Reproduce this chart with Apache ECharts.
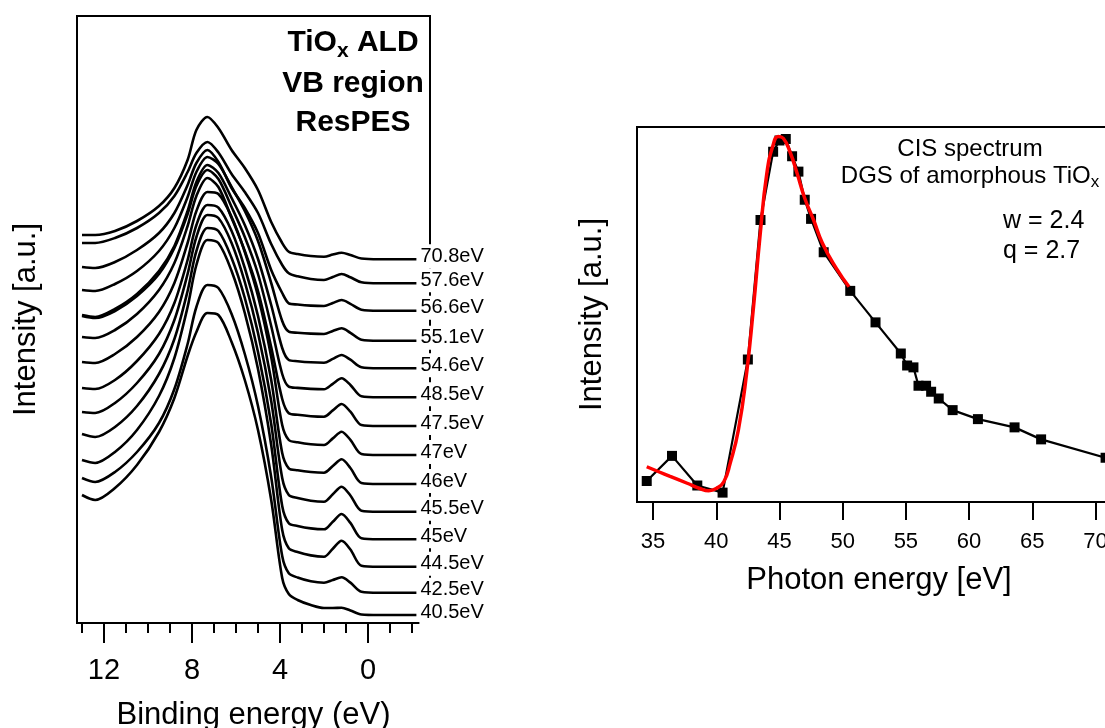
<!DOCTYPE html>
<html>
<head>
<meta charset="utf-8">
<title>TiOx ResPES</title>
<script src="https://cdn.jsdelivr.net/npm/echarts@6/dist/echarts.min.js"></script>
<style>
  html, body { margin: 0; padding: 0; background: #fff; }
  #chart { width: 1105px; height: 728px; }
</style>
</head>
<body>
<div id="chart"></div>
<script>
// binding energy grid (eV) shared by all valence band spectra
var bindingEnergy = [13, 12.4, 11.5, 10.5, 9.5, 8.8, 8.2, 7.8, 7.3, 6.8, 6.2, 5.6, 5.0, 4.4, 3.9, 3.6, 3.2, 2.6, 2.0, 1.6, 1.2, 0.8, 0.3, -0.5, -2.2];

// VB spectra, already offset (a.u.), one per photon energy
var vb708 = [388, 388, 392, 402, 417, 435, 463, 493, 506, 495, 473, 455, 433, 401, 380, 371.3, 369, 367, 366.3, 368.5, 370.3, 368, 364.5, 363.7, 363.7];
var vb576 = [380, 380, 385, 395, 410, 427, 451, 470, 481, 470.5, 449, 431, 410, 379, 358, 349.7, 346.7, 344, 343, 346, 349, 345.7, 340.7, 339.7, 339.7];
var vb566 = [356, 355, 361, 373, 390, 410, 438, 460, 473, 461, 435, 415, 390, 353, 330, 319.7, 318.5, 317.4, 317, 320, 323, 319.2, 313.3, 312.3, 312.3];
var vb551 = [333, 332, 339, 352, 372, 395, 426, 451, 466, 459, 436, 412, 382, 340, 302, 291.3, 290.3, 289.4, 289, 292, 294.7, 290.2, 283.3, 282.3, 282.3];
var vb546 = [308, 306, 314, 329, 352, 377, 412, 441, 458, 450, 425, 398, 364, 318, 275, 263, 261.8, 260.7, 260.3, 264.1, 268, 263.3, 255.7, 254.7, 254.7];
var vb485 = [307, 305, 312, 327, 349, 375, 409, 437, 453, 444, 416, 386, 349, 297, 249, 236.3, 235.1, 234.1, 233.7, 239.2, 244.7, 238, 226.7, 225.7, 225.7];
var vb475 = [286, 285, 293, 309, 333, 360, 397, 427, 445, 436, 405, 372, 332, 276, 224, 209.7, 208.2, 206.8, 206.3, 212.6, 219, 211.3, 198, 197, 197];
var vb470 = [261, 260, 269, 286, 311, 340, 380, 412, 431, 429, 406, 371, 327, 266, 198, 183, 180.7, 178.7, 178, 184.6, 191.3, 183.1, 169, 168, 168];
var vb460 = [235, 234, 243, 262, 289, 320, 363, 398, 418, 415.4, 392, 355, 307, 243, 170, 154.7, 152.7, 151, 150.3, 157, 163.7, 155, 140, 139, 139];
var vb455 = [211, 210, 220, 240, 269, 303, 349, 386, 408, 405, 380, 341, 290, 222, 145, 128, 125, 122.3, 121.3, 128.8, 136.3, 127.5, 112.3, 111.3, 111.3];
var vb450 = [189, 186, 196, 217, 249, 284, 332, 372, 395, 392, 365, 325, 271, 199, 117, 99.7, 97, 94.6, 93.7, 101.3, 109, 100.1, 84.7, 83.7, 83.7];
var vb445 = [163, 160, 171, 193, 227, 265, 316, 358, 383, 380, 352, 310, 254, 178, 93, 74.7, 71, 67.6, 66.3, 74.3, 82.3, 73.5, 57.3, 56.3, 56.3];
var vb425 = [145, 141, 151, 171, 200, 234, 279, 316, 338, 335, 309, 269, 217, 146, 67, 49.7, 45.5, 41.7, 40.3, 43, 45.7, 40.4, 31.3, 30.3, 30.3];
var vb405 = [128, 123, 135, 158, 191, 225, 267, 291, 310, 308, 281, 243, 193, 123, 45, 29, 23, 18, 15, 15, 15.3, 12.5, 8.5, 8, 8];

var vbLabels = ['70.8eV', '57.6eV', '56.6eV', '55.1eV', '54.6eV', '48.5eV', '47.5eV', '47eV', '46eV', '45.5eV', '45eV', '44.5eV', '42.5eV', '40.5eV'];
var vbSpectra = [vb708, vb576, vb566, vb551, vb546, vb485, vb475, vb470, vb460, vb455, vb450, vb445, vb425, vb405];

var beMajorTicks = [12, 8, 4, 0];
var beMinorTicks = [13, 11, 10, 9, 7, 6, 5, 3, 2, 1, -1, -2];

// CIS spectrum of the defect gap state
var cisEnergy = [34.5, 36.5, 38.5, 40.5, 42.5, 43.5, 44.5, 45, 45.5, 46, 46.5, 47, 47.5, 48.5, 50.6, 52.6, 54.6, 55.1, 55.6, 56, 56.6, 57, 57.6, 58.7, 60.7, 63.6, 65.7, 70.8];
var cisIntensity = [5.6, 12.3, 4.4, 2.5, 38.0, 75.2, 93.4, 96.4, 96.8, 92.2, 88.1, 80.6, 75.5, 66.6, 56.3, 47.9, 39.6, 36.4, 35.9, 31.0, 31.0, 29.4, 27.6, 24.5, 22.1, 19.9, 16.7, 11.8];

// Fano fit (red)
var fitEnergy = [34.5, 35.5, 36.3, 37.7, 38.7, 39.4, 40.0, 40.6, 41.1, 41.75, 42.4, 42.95, 43.45, 44.0, 44.5, 44.9, 45.3, 45.85, 46.4, 47.0, 47.7, 48.4, 49.5, 50.5];
var fitIntensity = [9.4, 8.0, 6.9, 5.0, 3.6, 3.0, 3.6, 5.4, 10.3, 19.2, 34.3, 52.1, 70.5, 87.6, 95.2, 97.5, 97.0, 93.2, 87.6, 81.0, 75.2, 69.0, 62.3, 57.4];

var photonTicks = [35, 40, 45, 50, 55, 60, 65, 70];

var FONT = 'Liberation Sans, Arial, Helvetica, sans-serif';

function pairs(xs, ys) {
  return xs.map(function (x, i) { return [x, ys[i]]; });
}

var series = [];
vbSpectra.forEach(function (spec, k) {
  var data = pairs(bindingEnergy, spec);
  var last = data.length - 1;
  // name label at the right end of each trace
  data[last] = { value: data[last], label: { show: true, formatter: vbLabels[k] } };
  series.push({
    name: vbLabels[k],
    type: 'line',
    xAxisIndex: 0,
    yAxisIndex: 0,
    data: data,
    smooth: 0.3,
    showSymbol: true,
    showAllSymbol: true,
    symbolSize: 0,
    silent: true,
    lineStyle: { color: '#000', width: 2.6 },
    itemStyle: { color: '#000' },
    label: {
      show: false,
      position: 'right',
      distance: 3,
      offset: [0, -3],
      fontFamily: FONT,
      fontSize: 20,
      color: '#000',
      backgroundColor: '#fff',
      padding: [2, 1]
    },
    z: 3
  });
});

series.push({
  name: 'CIS',
  type: 'line',
  xAxisIndex: 2,
  yAxisIndex: 1,
  data: pairs(cisEnergy, cisIntensity),
  symbol: 'rect',
  symbolSize: 10,
  showAllSymbol: true,
  silent: true,
  lineStyle: { color: '#000', width: 2.2 },
  itemStyle: { color: '#000' },
  z: 3
});

series.push({
  name: 'fit',
  type: 'line',
  xAxisIndex: 2,
  yAxisIndex: 1,
  data: pairs(fitEnergy, fitIntensity),
  smooth: 0.5,
  showSymbol: false,
  silent: true,
  lineStyle: { color: '#ff0000', width: 3.5 },
  z: 4
});

var chart = echarts.init(document.getElementById('chart'));

var option = {
  animation: false,
  backgroundColor: '#fff',
  textStyle: { fontFamily: FONT, color: '#000' },
  grid: [
    { left: 77, top: 16, width: 353, height: 607, show: true, borderColor: '#000', borderWidth: 2, outerBoundsMode: 'none' },
    { left: 637, top: 127, width: 484, height: 375, show: true, borderColor: '#000', borderWidth: 2, outerBoundsMode: 'none' }
  ],
  xAxis: [
    {
      gridIndex: 0, type: 'value', position: 'bottom', inverse: true,
      min: -2.818, max: 13.227,
      name: 'Binding energy (eV)', nameLocation: 'middle', nameGap: 77,
      nameTextStyle: { fontSize: 31, color: '#000', fontFamily: FONT },
      axisLine: { show: true, onZero: false, lineStyle: { color: '#000', width: 2 } },
      axisTick: { show: true, customValues: beMajorTicks, length: 20, lineStyle: { color: '#000', width: 2 } },
      axisLabel: { show: true, customValues: beMajorTicks, margin: 33, fontSize: 29, color: '#000', fontFamily: FONT },
      splitLine: { show: false }
    },
    {
      gridIndex: 0, type: 'value', position: 'bottom', inverse: true,
      min: -2.818, max: 13.227,
      axisLine: { show: false, onZero: false },
      axisTick: { show: true, customValues: beMinorTicks, length: 10, lineStyle: { color: '#000', width: 2 } },
      axisLabel: { show: false },
      splitLine: { show: false }
    },
    {
      gridIndex: 1, type: 'value', position: 'bottom',
      min: 33.73, max: 72.02,
      name: 'Photon energy [eV]', nameLocation: 'middle', nameGap: 63,
      nameTextStyle: { fontSize: 31, color: '#000', fontFamily: FONT },
      axisLine: { show: true, onZero: false, lineStyle: { color: '#000', width: 2 } },
      axisTick: { show: true, customValues: photonTicks, length: 18, lineStyle: { color: '#000', width: 2 } },
      axisLabel: { show: true, customValues: photonTicks, margin: 29, fontSize: 22, color: '#000', fontFamily: FONT },
      splitLine: { show: false }
    }
  ],
  yAxis: [
    {
      gridIndex: 0, type: 'value', min: 0, max: 607,
      name: 'Intensity [a.u.]', nameLocation: 'middle', nameRotate: 90, nameGap: 35,
      nameTextStyle: { fontSize: 31, color: '#000', fontFamily: FONT },
      axisLine: { show: true, onZero: false, lineStyle: { color: '#000', width: 2 } },
      axisTick: { show: false }, axisLabel: { show: false }, splitLine: { show: false }
    },
    {
      gridIndex: 1, type: 'value', min: 0, max: 100,
      name: 'Intensity [a.u.]', nameLocation: 'middle', nameRotate: 90, nameGap: 29,
      nameTextStyle: { fontSize: 31, color: '#000', fontFamily: FONT },
      axisLine: { show: true, onZero: false, lineStyle: { color: '#000', width: 2 } },
      axisTick: { show: false }, axisLabel: { show: false }, splitLine: { show: false }
    }
  ],
  graphic: [
    {
      type: 'text', x: 353, y: 43, z: 10,
      style: {
        text: '{a|TiO}{s|x}{a| ALD}', align: 'center', verticalAlign: 'middle',
        rich: {
          a: { fontFamily: FONT, fontSize: 30, fontWeight: 'bold', fill: '#000' },
          s: { fontFamily: FONT, fontSize: 21, fontWeight: 'bold', fill: '#000', padding: [16, 0, 0, 0] }
        }
      }
    },
    { type: 'text', x: 353, y: 84, z: 10, style: { text: 'VB region', font: 'bold 30px ' + FONT, fill: '#000', align: 'center', verticalAlign: 'middle' } },
    { type: 'text', x: 353, y: 123, z: 10, style: { text: 'ResPES', font: 'bold 30px ' + FONT, fill: '#000', align: 'center', verticalAlign: 'middle' } },
    { type: 'text', x: 970, y: 149, z: 10, style: { text: 'CIS spectrum', font: '24px ' + FONT, fill: '#000', align: 'center', verticalAlign: 'middle' } },
    {
      type: 'text', x: 970, y: 176, z: 10,
      style: {
        text: '{a|DGS of amorphous TiO}{s|x}', align: 'center', verticalAlign: 'middle',
        rich: {
          a: { fontFamily: FONT, fontSize: 24, fill: '#000' },
          s: { fontFamily: FONT, fontSize: 17, fill: '#000', padding: [12, 0, 0, 0] }
        }
      }
    },
    { type: 'text', x: 1003, y: 221, z: 10, style: { text: 'w = 2.4', font: '25px ' + FONT, fill: '#000', align: 'left', verticalAlign: 'middle' } },
    { type: 'text', x: 1003, y: 251, z: 10, style: { text: 'q = 2.7', font: '25px ' + FONT, fill: '#000', align: 'left', verticalAlign: 'middle' } }
  ],
  series: series
};

chart.setOption(option);
</script>
</body>
</html>
